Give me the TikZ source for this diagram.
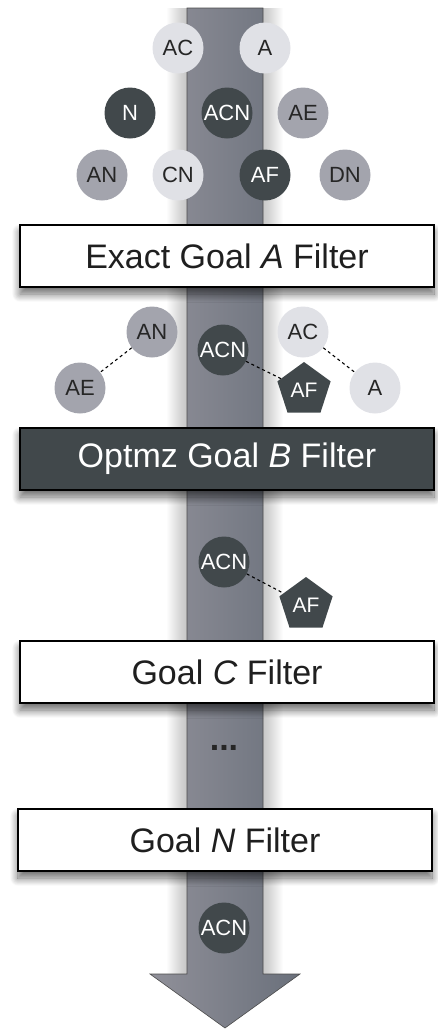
\documentclass[tikz,border=0pt]{standalone}
\usepackage{fontspec}
\setmainfont{Liberation Sans}
\usetikzlibrary{shapes.geometric,shadows.blur}
\definecolor{lightc}{HTML}{E0E1E6}
\definecolor{midc}{HTML}{A3A4AD}
\definecolor{darkc}{HTML}{41484B}
\definecolor{shaftL}{HTML}{909099}
\definecolor{shaftR}{HTML}{6A707B}
\tikzset{
  ball/.style={circle,minimum size=51pt,inner sep=0pt,font=\fontsize{22}{22}\selectfont},
  lightball/.style={ball,fill=lightc,text=black!85},
  midball/.style={ball,fill=midc,text=black!85},
  darkball/.style={ball,fill=darkc,text=white},
  penta/.style={regular polygon,regular polygon sides=5,minimum size=56pt,inner sep=0pt,fill=darkc,text=white,font=\fontsize{21}{21}\selectfont},
  filterbox/.style={rectangle,draw=black,line width=2.5pt,minimum width=414pt,minimum height=62pt,inner sep=0pt,
     font=\fontsize{34}{34}\selectfont,
     blur shadow={shadow xshift=0pt,shadow yshift=-7pt,shadow blur steps=12,shadow opacity=60,shadow blur radius=8pt}},
  whitebox/.style={filterbox,fill=white,text=black!88},
  darkbox/.style={filterbox,fill=darkc,text=white},
  link/.style={draw=black,line width=1.1pt,dash pattern=on 3pt off 3pt},
}
\begin{document}
\begin{tikzpicture}[x=1pt,y=-1pt]
\useasboundingbox (0,0) rectangle (437,1031);
% glow of the shaft
\foreach \w in {1,...,20}{
  \fill[black,opacity=0.012] (187-\w,8) rectangle (263+\w,974);
}
% shaft arrow
\path[left color=shaftL,right color=shaftR,draw=black!70,line width=0.6pt]
  (187,8) -- (263,8) -- (263,974) -- (300,974) -- (225,1028) -- (150,974) -- (187,974) -- cycle;
% section 1
\node[lightball] (ac1) at (178,48) {AC};
\node[lightball] (a1) at (265,48) {A};
\node[darkball] (n1) at (130,113) {N};
\node[darkball] (acn1) at (227,113) {ACN};
\node[midball] (ae1) at (303,113) {AE};
\node[midball] (an1) at (102,175) {AN};
\node[lightball] (cn1) at (178,175) {CN};
\node[darkball] (af1) at (265,175) {AF};
\node[midball] (dn1) at (345,175) {DN};
% filter A
\node[whitebox] (fa) at (227,256) {Exact Goal \textit{A} Filter};
% section 2
\node[midball] (an2) at (152,332) {AN};
\node[midball] (ae2) at (80,388) {AE};
\node[darkball] (acn2) at (223,350) {ACN};
\node[lightball] (ac2) at (303,332) {AC};
\node[lightball] (a2) at (375,388) {A};
\node[penta] (af2) at (304,390) {AF};
\draw[link] (an2) -- (ae2);
\draw[link] (acn2) -- (af2);
\draw[link] (ac2) -- (a2);
% filter B
\node[darkbox] (fb) at (227,459) {Optmz Goal \textit{B} Filter};
% section 3
\node[darkball] (acn3) at (224,562) {ACN};
\node[penta] (af3) at (306,605) {AF};
\draw[link] (acn3) -- (af3);
% filter C
\node[whitebox] (fc) at (227,672) {Goal \textit{C} Filter};
\node[font=\fontsize{34}{34}\selectfont\bfseries,text=black!85] (dots) at (224,748) {...};
% filter N
\node[whitebox] (fn) at (225,840) {Goal \textit{N} Filter};
\node[darkball] (acn4) at (224,928) {ACN};
\end{tikzpicture}
\end{document}
